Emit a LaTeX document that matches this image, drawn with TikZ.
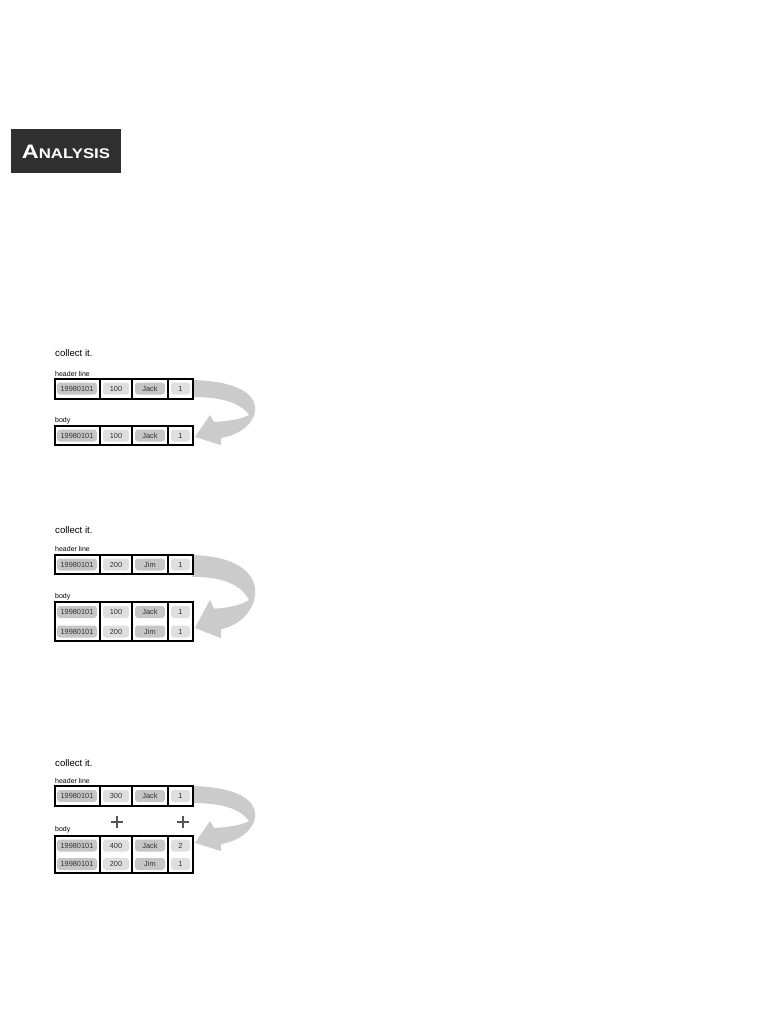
\documentclass[tikz,border=0pt]{standalone}
\usepackage{fontspec}
\setmainfont{Liberation Sans}
\usepackage{graphicx}
\definecolor{boxdark}{HTML}{2F2F2F}
\definecolor{pilldark}{HTML}{C6C6C6}
\definecolor{pilllight}{HTML}{DFDFDF}
\definecolor{arrowgray}{HTML}{CBCBCB}
\definecolor{celltext}{HTML}{333333}
\definecolor{plusgray}{HTML}{555555}
\tikzset{
  pillbase/.style={rounded corners=3pt, minimum height=12pt, inner sep=0pt, text=celltext,
    text height=5.2pt, text depth=0pt, font=\fontsize{7.4}{8}\selectfont},
  pillD/.style={pillbase, fill=pilldark},
  pillL/.style={pillbase, fill=pilllight},
  frame/.style={draw=black, line width=1.3pt, fill=white},
  divider/.style={draw=black, line width=1.2pt},
  title/.style={anchor=base west, inner sep=0pt, font=\fontsize{9.6}{11}\selectfont},
  small/.style={anchor=base west, inner sep=0pt, font=\fontsize{7}{8}\selectfont},
  bigarrow/.style={fill=arrowgray, draw=none},
  plus/.style={draw=plusgray, line width=2.2pt}
}
\newcommand\datarow[6]{%
  \node[pillD, minimum width=40pt] (#1a) at (77,#2) {#3};
  \node[pillL, minimum width=26pt] (#1b) at (116,#2) {#4};
  \node[pillD, minimum width=30pt] (#1c) at (150,#2) {#5};
  \node[pillL, minimum width=19pt] (#1d) at (180.5,#2) {#6};
}
\newcommand\tableframe[3]{%
  \draw[frame] (55,#2) rectangle (193,#3);
  \coordinate (#1nw) at (55,#2);
  \coordinate (#1se) at (193,#3);
  \draw[divider] (100,#2) -- (100,#3);
  \draw[divider] (132,#2) -- (132,#3);
  \draw[divider] (168,#2) -- (168,#3);
}
\newcommand\curvearrow[3]{%
  \begin{scope}[shift={(0,#1)}, yscale=#2]
    \path[bigarrow] (192,0) .. controls (235,1) and (257,13) .. (255,31)
      .. controls (254,43) and (240,55) .. (221,58)
      -- (221,65) -- (195,57) -- (210,35) -- (214,42)
      .. controls (230,41) and (242,39) .. (249,35)
      .. controls (240,22) and (220,17) .. (192,17) -- cycle;
    \coordinate (#3) at (195,57);
  \end{scope}
}
\begin{document}
\begin{tikzpicture}[x=1pt, y=-1pt]
\useasboundingbox[fill=white] (0,0) rectangle (781,1011);

% heading
\node[fill=boxdark, minimum width=110pt, minimum height=44pt, inner sep=0pt, text=white] (heading) at (66,151.5)
  {\scalebox{1.2}[1]{\bfseries{\fontsize{19.5}{20}\selectfont A}{\fontsize{14}{15}\selectfont NALYSIS}}};

% ---------- panel 1 ----------
\curvearrow{380}{1}{tip1}
\node[title] (c1) at (55,356) {collect it.};
\node[small] (h1) at (55,376) {header line};
\tableframe{hdr1}{379}{399}
\datarow{h1r}{388.5}{19980101}{100}{Jack}{1}
\node[small] (b1) at (55,422) {body};
\tableframe{bdy1}{426}{445}
\datarow{b1r}{435.5}{19980101}{100}{Jack}{1}

% ---------- panel 2 ----------
\curvearrow{555}{1.28}{tip2}
\node[title] (c2) at (55,533) {collect it.};
\node[small] (h2) at (55,551) {header line};
\tableframe{hdr2}{555}{574}
\datarow{h2r}{564.5}{19980101}{200}{Jim}{1}
\node[small] (b2) at (55,598) {body};
\tableframe{bdy2}{602}{641}
\datarow{b2r}{612}{19980101}{100}{Jack}{1}
\datarow{b2s}{631.5}{19980101}{200}{Jim}{1}

% ---------- panel 3 ----------
\curvearrow{786}{1.0}{tip3}
\node[title] (c3) at (55,766) {collect it.};
\node[small] (h3) at (55,783) {header line};
\tableframe{hdr3}{786}{806}
\datarow{h3r}{796}{19980101}{300}{Jack}{1}
\draw[plus] (111,822) -- (123,822) (117,816) -- (117,828);
\draw[plus] (177,822) -- (189,822) (183,816) -- (183,828);
\node[small] (b3) at (55,831) {body};
\tableframe{bdy3}{836}{873}
\datarow{b3r}{845.5}{19980101}{400}{Jack}{2}
\datarow{b3s}{864}{19980101}{200}{Jim}{1}
\end{tikzpicture}
\end{document}
